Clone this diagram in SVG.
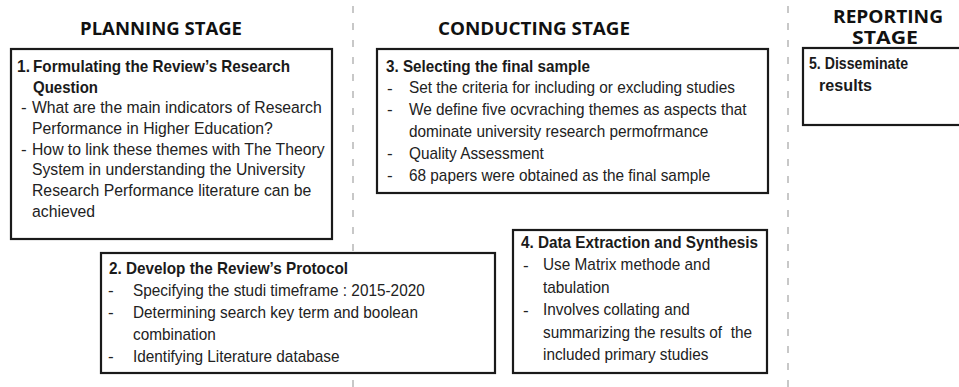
<svg xmlns="http://www.w3.org/2000/svg" width="959" height="387" viewBox="0 0 959 387">
<style>
.bg{fill:#ffffff}
.box{fill:#ffffff;stroke:#1a1a1a;stroke-width:2.2}
.sep{stroke:#c8c8c8;stroke-width:2;stroke-dasharray:7 10;fill:none}
.hd{font-family:"Open Sans","DejaVu Sans",sans-serif;font-weight:700;font-size:17px;fill:#111111;text-anchor:middle}
.t{font-family:"Liberation Sans",Arial,sans-serif;font-size:17px;fill:#222222}
.b{font-family:"Liberation Sans",Arial,sans-serif;font-size:17px;font-weight:700;fill:#1a1a1a}
</style>
<rect class="bg" x="0" y="0" width="959" height="387"/>
<g id="separators">
<line class="sep" x1="353" y1="6" x2="353" y2="387"/>
<line class="sep" x1="788" y1="6" x2="788" y2="387"/>
</g>
<g id="headers">
<text class="hd" x="161" y="35" textLength="162" lengthAdjust="spacingAndGlyphs">PLANNING STAGE</text>
<text class="hd" x="534" y="35" textLength="192" lengthAdjust="spacingAndGlyphs">CONDUCTING STAGE</text>
<text class="hd" x="888" y="23" textLength="110" lengthAdjust="spacingAndGlyphs">REPORTING</text>
<text class="hd" x="885" y="44" textLength="66" lengthAdjust="spacingAndGlyphs">STAGE</text>
</g>
<g id="connectors"></g>
<g id="node1">
<rect class="box" x="11" y="49" width="321" height="190"/>
<text class="b" x="17" y="72" textLength="13" lengthAdjust="spacingAndGlyphs">1.</text>
<text class="b" x="33" y="72" textLength="257" lengthAdjust="spacingAndGlyphs">Formulating the Review’s Research</text>
<text class="b" x="33" y="93" textLength="65" lengthAdjust="spacingAndGlyphs">Question</text>
<text class="t" x="21" y="113">-</text>
<text class="t" x="21" y="155">-</text>
<g transform="translate(32 0) scale(0.927 1)">
<text class="t" x="0" y="113">What are the main indicators of Research</text>
<text class="t" x="0" y="134">Performance in Higher Education?</text>
<text class="t" x="0" y="155">How to link these themes with The Theory</text>
<text class="t" x="0" y="175">System in understanding the University</text>
<text class="t" x="0" y="196">Research Performance literature can be</text>
<text class="t" x="0" y="217">achieved</text>
</g>
</g>
<g id="node2">
<rect class="box" x="101" y="253" width="394" height="120"/>
<text class="b" x="109" y="274" textLength="239" lengthAdjust="spacingAndGlyphs">2. Develop the Review’s Protocol</text>
<text class="t" x="108" y="296">-</text>
<text class="t" x="108" y="318">-</text>
<text class="t" x="108" y="362">-</text>
<g transform="translate(133 0) scale(0.9035 1)">
<text class="t" x="0" y="296">Specifying the studi timeframe : 2015-2020</text>
<text class="t" x="0" y="318">Determining search key term and boolean</text>
<text class="t" x="0" y="340">combination</text>
<text class="t" x="0" y="362">Identifying Literature database</text>
</g>
</g>
<g id="node3">
<rect class="box" x="377" y="49" width="391" height="144"/>
<text class="b" x="386" y="72" textLength="204" lengthAdjust="spacingAndGlyphs">3. Selecting the final sample</text>
<text class="t" x="387" y="93.5">-</text>
<text class="t" x="387" y="115">-</text>
<text class="t" x="387" y="159">-</text>
<text class="t" x="387" y="181">-</text>
<g transform="translate(409 0) scale(0.9035 1)">
<text class="t" x="0" y="93.5">Set the criteria for including or excluding studies</text>
<text class="t" x="0" y="115">We define five ocvraching themes as aspects that</text>
<text class="t" x="0" y="137">dominate university research permofrmance</text>
<text class="t" x="0" y="159">Quality Assessment</text>
<text class="t" x="0" y="181">68 papers were obtained as the final sample</text>
</g>
</g>
<g id="node4">
<rect class="box" x="513" y="230" width="254" height="143"/>
<text class="b" x="521" y="248" textLength="237" lengthAdjust="spacingAndGlyphs">4. Data Extraction and Synthesis</text>
<text class="t" x="523" y="270.5">-</text>
<text class="t" x="523" y="315.5">-</text>
<g transform="translate(543 0) scale(0.9035 1)">
<text class="t" x="0" y="270.5">Use Matrix methode and</text>
<text class="t" x="0" y="293">tabulation</text>
<text class="t" x="0" y="315.5">Involves collating and</text>
<text class="t" x="0" y="338" xml:space="preserve">summarizing the results of  the</text>
<text class="t" x="0" y="360.5">included primary studies</text>
</g>
</g>
<g id="node5">
<rect class="box" x="803" y="48" width="162" height="77"/>
<text class="b" x="809" y="69" textLength="99" lengthAdjust="spacingAndGlyphs">5. Disseminate</text>
<text class="b" x="819" y="91" textLength="53" lengthAdjust="spacingAndGlyphs">results</text>
</g>
</svg>
